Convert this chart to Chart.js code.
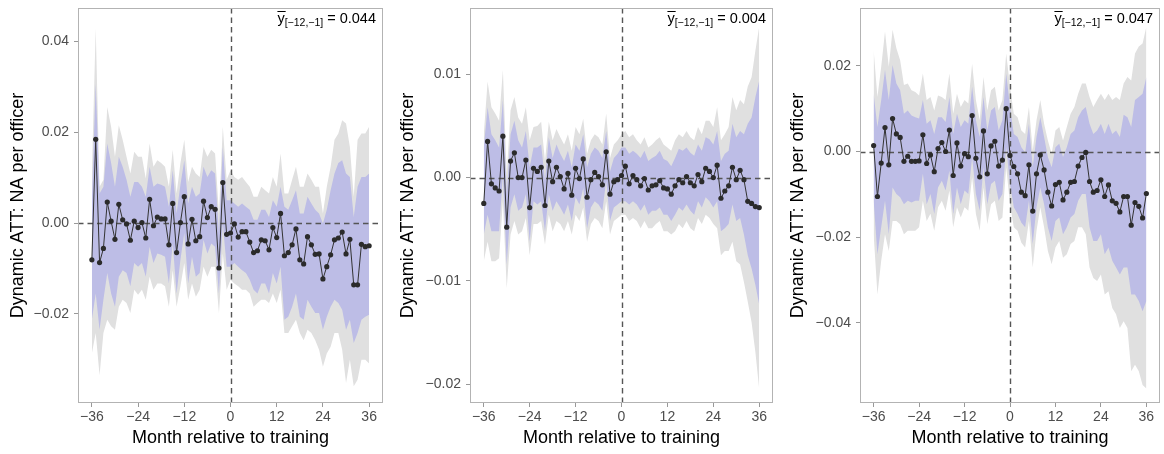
<!DOCTYPE html>
<html>
<head>
<meta charset="utf-8">
<script src="https://cdn.jsdelivr.net/npm/chart.js@4.4.1/dist/chart.umd.min.js"></script>
<style>
  body { margin: 0; background: #fff; }
  .panel { position: absolute; top: 0; height: 454px; }
</style>
</head>
<body>
<div class="panel" style="left:0;width:390px"><canvas id="c1" width="390" height="454"></canvas></div>
<div class="panel" style="left:390px;width:390px"><canvas id="c2" width="390" height="454"></canvas></div>
<div class="panel" style="left:780px;width:384px"><canvas id="c3" width="384" height="454"></canvas></div>
<script>
// months relative to training (x categories)
const months = Array.from({length: 73}, (_, i) => i - 36);
const xTicks = [-36, -24, -12, 0, 12, 24, 36];

// pre-period mean labels
const ybarLabels = ['0.044', '0.004', '0.047'];

// ---- panel 1 ----
const yTicks1 = [-0.02, 0, 0.02, 0.04];
const est1 = [
  -0.0081, 0.0184, -0.0087, -0.0056, 0.0046, 0.0004, -0.0036, 0.0041, 0.0007, -0.0002, -0.0038, 0.0004,
  -0.0010, 0.0001, -0.0033, 0.0052, -0.0006, 0.0013, 0.0009, 0.0009, -0.0048, 0.0043, -0.0065, 0.0001,
  0.0058, -0.0046, 0.0008, -0.0039, -0.0030, 0.0048, 0.0012, 0.0036, 0.0030, -0.0099, 0.0089, -0.0025,
  -0.0022, -0.0002, -0.0031, -0.0019, -0.0019, -0.0042, -0.0065, -0.0061, -0.0037, -0.0039, -0.0059, -0.0010,
  -0.0032, 0.0021, -0.0072, -0.0065, -0.0048, -0.0013, -0.0081, -0.0090, -0.0030, -0.0048, -0.0069, -0.0068,
  -0.0123, -0.0096, -0.0070, -0.0037, -0.0033, -0.0020, -0.0068, -0.0036, -0.0136, -0.0136, -0.0047, -0.0052,
  -0.0050
];
const innerHi1 = [
  0.0050, 0.0307, 0.0065, 0.0080, 0.0175, 0.0132, 0.0080, 0.0146, 0.0124, 0.0095, 0.0058, 0.0090,
  0.0090, 0.0080, 0.0058, 0.0124, 0.0080, 0.0087, 0.0084, 0.0080, 0.0036, 0.0116, 0.0021, 0.0084,
  0.0138, 0.0043, 0.0080, 0.0058, 0.0065, 0.0124, 0.0101, 0.0116, 0.0109, -0.0022, 0.0167, 0.0050,
  0.0050, 0.0043, 0.0036, 0.0043, 0.0036, 0.0029, 0.0007, 0.0007, 0.0029, 0.0029, 0.0013, 0.0050,
  0.0036, 0.0080, 0.0036, 0.0029, 0.0050, 0.0072, 0.0021, 0.0021, 0.0058, 0.0043, 0.0029, 0.0021,
  -0.0001, 0.0029, 0.0072, 0.0109, 0.0132, 0.0138, 0.0109, 0.0101, 0.0013, 0.0080, 0.0101, 0.0101,
  0.0109
];
const innerLo1 = [
  -0.0213, -0.0155, -0.0235, -0.0169, -0.0110, -0.0155, -0.0184, -0.0118, -0.0104, -0.0110, -0.0139, -0.0088,
  -0.0096, -0.0088, -0.0118, -0.0052, -0.0088, -0.0067, -0.0070, -0.0074, -0.0133, -0.0045, -0.0155, -0.0081,
  -0.0022, -0.0133, -0.0074, -0.0118, -0.0110, -0.0037, -0.0067, -0.0045, -0.0052, -0.0155, -0.0001, -0.0096,
  -0.0096, -0.0088, -0.0096, -0.0104, -0.0110, -0.0125, -0.0147, -0.0155, -0.0133, -0.0133, -0.0155, -0.0110,
  -0.0133, -0.0096, -0.0213, -0.0206, -0.0184, -0.0155, -0.0206, -0.0213, -0.0169, -0.0184, -0.0198, -0.0198,
  -0.0235, -0.0206, -0.0184, -0.0169, -0.0176, -0.0191, -0.0235, -0.0213, -0.0264, -0.0242, -0.0213, -0.0206,
  -0.0202
];
const outerHi1 = [
  0.0109, 0.0428, 0.0080, 0.0095, 0.0255, 0.0212, 0.0146, 0.0215, 0.0183, 0.0146, 0.0109, 0.0157,
  0.0146, 0.0146, 0.0098, 0.0175, 0.0124, 0.0138, 0.0132, 0.0124, 0.0080, 0.0161, 0.0065, 0.0132,
  0.0183, 0.0090, 0.0124, 0.0109, 0.0101, 0.0167, 0.0146, 0.0161, 0.0153, 0.0021, 0.0212, 0.0095,
  0.0116, 0.0101, 0.0095, 0.0101, 0.0090, 0.0080, 0.0058, 0.0058, 0.0080, 0.0072, 0.0065, 0.0101,
  0.0080, 0.0153, 0.0065, 0.0065, 0.0095, 0.0124, 0.0080, 0.0080, 0.0109, 0.0095, 0.0080, 0.0080,
  0.0021, 0.0080, 0.0124, 0.0183, 0.0197, 0.0226, 0.0219, 0.0167, 0.0058, 0.0183, 0.0197, 0.0197,
  0.0212
];
const outerLo1 = [
  -0.0287, -0.0242, -0.0335, -0.0242, -0.0213, -0.0227, -0.0235, -0.0184, -0.0169, -0.0176, -0.0198, -0.0147,
  -0.0158, -0.0147, -0.0169, -0.0118, -0.0147, -0.0133, -0.0133, -0.0139, -0.0184, -0.0104, -0.0184, -0.0139,
  -0.0088, -0.0169, -0.0133, -0.0162, -0.0147, -0.0096, -0.0118, -0.0096, -0.0096, -0.0198, -0.0067, -0.0147,
  -0.0125, -0.0133, -0.0139, -0.0147, -0.0147, -0.0155, -0.0184, -0.0176, -0.0169, -0.0169, -0.0176, -0.0155,
  -0.0176, -0.0147, -0.0242, -0.0242, -0.0227, -0.0213, -0.0242, -0.0258, -0.0235, -0.0242, -0.0258, -0.0279,
  -0.0316, -0.0287, -0.0272, -0.0242, -0.0242, -0.0279, -0.0352, -0.0301, -0.0359, -0.0345, -0.0301, -0.0301,
  -0.0309
];

// ---- panel 2 ----
const yTicks2 = [-0.02, -0.01, 0, 0.01];
const est2 = [
  -0.0025, 0.0035, -0.0006, -0.0010, -0.0013, 0.0040, -0.0048, 0.0016, 0.0024, 0.0000, 0.0000, 0.0017,
  -0.0029, 0.0009, 0.0006, 0.0010, -0.0027, 0.0016, -0.0004, 0.0010, 0.0001, -0.0011, 0.0004, -0.0017,
  0.0009, -0.0001, 0.0018, -0.0019, -0.0002, 0.0005, 0.0001, -0.0007, 0.0025, -0.0016, -0.0004, -0.0002,
  0.0002, 0.0011, -0.0006, 0.0002, -0.0002, -0.0008, -0.0001, -0.0012, -0.0008, -0.0007, -0.0003, -0.0010,
  -0.0011, -0.0016, -0.0008, -0.0002, -0.0005, 0.0001, -0.0005, -0.0008, 0.0003, -0.0004, 0.0009, 0.0006,
  0.0000, 0.0012, -0.0020, -0.0013, -0.0008, 0.0010, -0.0002, 0.0007, -0.0002, -0.0023, -0.0025, -0.0028,
  -0.0029
];
const innerHi2 = [
  0.0029, 0.0068, 0.0042, 0.0036, 0.0029, 0.0075, -0.0016, 0.0042, 0.0055, 0.0036, 0.0029, 0.0045,
  0.0010, 0.0029, 0.0029, 0.0032, -0.0003, 0.0039, 0.0019, 0.0032, 0.0023, 0.0016, 0.0026, 0.0010,
  0.0032, 0.0026, 0.0042, 0.0010, 0.0023, 0.0029, 0.0026, 0.0019, 0.0045, 0.0006, 0.0019, 0.0023,
  0.0029, 0.0029, 0.0023, 0.0026, 0.0023, 0.0019, 0.0026, 0.0016, 0.0019, 0.0021, 0.0026, 0.0018,
  0.0016, 0.0011, 0.0019, 0.0028, 0.0026, 0.0029, 0.0024, 0.0021, 0.0032, 0.0026, 0.0039, 0.0037,
  0.0032, 0.0045, 0.0016, 0.0023, 0.0026, 0.0052, 0.0039, 0.0045, 0.0042, 0.0052, 0.0058, 0.0078,
  0.0094
];
const innerLo2 = [
  -0.0055, -0.0036, -0.0052, -0.0052, -0.0052, 0.0003, -0.0084, -0.0029, -0.0016, -0.0032, -0.0029, -0.0016,
  -0.0062, -0.0023, -0.0026, -0.0023, -0.0052, -0.0016, -0.0032, -0.0023, -0.0029, -0.0036, -0.0026, -0.0042,
  -0.0019, -0.0026, -0.0010, -0.0049, -0.0029, -0.0023, -0.0026, -0.0032, -0.0003, -0.0042, -0.0029, -0.0026,
  -0.0023, -0.0023, -0.0026, -0.0023, -0.0026, -0.0032, -0.0026, -0.0036, -0.0032, -0.0032, -0.0029, -0.0036,
  -0.0036, -0.0042, -0.0036, -0.0029, -0.0032, -0.0026, -0.0032, -0.0036, -0.0023, -0.0029, -0.0019, -0.0023,
  -0.0029, -0.0023, -0.0052, -0.0049, -0.0045, -0.0026, -0.0042, -0.0039, -0.0055, -0.0075, -0.0088, -0.0104,
  -0.0123
];
const outerHi2 = [
  0.0042, 0.0093, 0.0068, 0.0062, 0.0055, 0.0104, 0.0003, 0.0065, 0.0078, 0.0058, 0.0052, 0.0068,
  0.0036, 0.0049, 0.0050, 0.0054, 0.0016, 0.0054, 0.0036, 0.0047, 0.0039, 0.0032, 0.0042, 0.0026,
  0.0049, 0.0042, 0.0057, 0.0023, 0.0036, 0.0042, 0.0039, 0.0032, 0.0062, 0.0019, 0.0032, 0.0036,
  0.0042, 0.0045, 0.0039, 0.0042, 0.0036, 0.0032, 0.0039, 0.0029, 0.0032, 0.0036, 0.0039, 0.0032,
  0.0029, 0.0026, 0.0036, 0.0042, 0.0039, 0.0045, 0.0039, 0.0036, 0.0049, 0.0042, 0.0055, 0.0055,
  0.0049, 0.0068, 0.0036, 0.0042, 0.0049, 0.0078, 0.0065, 0.0075, 0.0071, 0.0088, 0.0097, 0.0123,
  0.0146
];
const outerLo2 = [
  -0.0081, -0.0062, -0.0081, -0.0081, -0.0078, -0.0023, -0.0107, -0.0055, -0.0042, -0.0055, -0.0052, -0.0039,
  -0.0075, -0.0045, -0.0045, -0.0042, -0.0065, -0.0036, -0.0052, -0.0042, -0.0045, -0.0052, -0.0042, -0.0055,
  -0.0036, -0.0042, -0.0029, -0.0062, -0.0045, -0.0039, -0.0042, -0.0049, -0.0023, -0.0055, -0.0042, -0.0039,
  -0.0036, -0.0036, -0.0042, -0.0039, -0.0042, -0.0049, -0.0042, -0.0049, -0.0049, -0.0045, -0.0042, -0.0052,
  -0.0052, -0.0055, -0.0052, -0.0045, -0.0049, -0.0042, -0.0049, -0.0052, -0.0039, -0.0045, -0.0036, -0.0039,
  -0.0045, -0.0049, -0.0075, -0.0071, -0.0071, -0.0062, -0.0081, -0.0084, -0.0101, -0.0120, -0.0140, -0.0169,
  -0.0205
];

// ---- panel 3 ----
const yTicks3 = [-0.04, -0.02, 0, 0.02];
const est3 = [
  0.0014, -0.0105, -0.0027, 0.0056, -0.0031, 0.0077, 0.0041, 0.0033, -0.0023, -0.0011, -0.0023, -0.0023,
  -0.0022, 0.0039, -0.0028, -0.0008, -0.0047, 0.0007, 0.0021, 0.0000, 0.0050, -0.0056, 0.0020, -0.0034,
  -0.0005, -0.0012, 0.0084, -0.0016, -0.0059, 0.0048, -0.0052, 0.0013, 0.0024, -0.0034, -0.0020, 0.0100,
  -0.0009, -0.0035, -0.0052, -0.0095, -0.0103, -0.0031, -0.0139, -0.0052, -0.0008, -0.0043, -0.0095, -0.0127,
  -0.0077, -0.0072, -0.0113, -0.0095, -0.0072, -0.0070, -0.0034, -0.0014, -0.0002, -0.0070, -0.0095, -0.0091,
  -0.0066, -0.0105, -0.0078, -0.0115, -0.0121, -0.0141, -0.0105, -0.0105, -0.0172, -0.0119, -0.0128, -0.0155,
  -0.0098
];
const innerHi3 = [
  0.0135, 0.0057, 0.0120, 0.0190, 0.0120, 0.0202, 0.0159, 0.0143, 0.0088, 0.0096, 0.0084, 0.0080,
  0.0077, 0.0120, 0.0065, 0.0073, 0.0041, 0.0080, 0.0080, 0.0069, 0.0127, 0.0041, 0.0088, 0.0057,
  0.0073, 0.0065, 0.0151, 0.0073, 0.0034, 0.0127, 0.0049, 0.0096, 0.0104, 0.0049, 0.0073, 0.0182,
  0.0104, 0.0041, 0.0034, 0.0010, -0.0002, 0.0065, -0.0037, 0.0034, 0.0080, 0.0034, -0.0013, -0.0037,
  0.0010, 0.0018, -0.0013, 0.0010, 0.0041, 0.0049, 0.0080, 0.0096, 0.0104, 0.0065, 0.0041, 0.0049,
  0.0065, 0.0041, 0.0065, 0.0041, 0.0049, 0.0034, 0.0086, 0.0080, 0.0057, 0.0120, 0.0127, 0.0135,
  0.0174
];
const innerLo3 = [
  -0.0115, -0.0240, -0.0177, -0.0115, -0.0193, -0.0084, -0.0099, -0.0107, -0.0123, -0.0115, -0.0119, -0.0115,
  -0.0115, -0.0052, -0.0123, -0.0099, -0.0146, -0.0084, -0.0068, -0.0091, -0.0045, -0.0146, -0.0084, -0.0123,
  -0.0091, -0.0099, -0.0013, -0.0099, -0.0138, -0.0037, -0.0123, -0.0076, -0.0068, -0.0115, -0.0099, 0.0010,
  -0.0076, -0.0130, -0.0146, -0.0166, -0.0177, -0.0115, -0.0216, -0.0130, -0.0084, -0.0123, -0.0177, -0.0209,
  -0.0162, -0.0154, -0.0193, -0.0177, -0.0154, -0.0146, -0.0115, -0.0099, -0.0099, -0.0177, -0.0209, -0.0209,
  -0.0193, -0.0240, -0.0224, -0.0255, -0.0271, -0.0287, -0.0271, -0.0271, -0.0334, -0.0334, -0.0349, -0.0373,
  -0.0349
];
const outerHi3 = [
  0.0237, 0.0127, 0.0198, 0.0280, 0.0198, 0.0284, 0.0241, 0.0213, 0.0155, 0.0159, 0.0143, 0.0139,
  0.0131, 0.0182, 0.0120, 0.0127, 0.0096, 0.0131, 0.0127, 0.0120, 0.0182, 0.0088, 0.0135, 0.0104,
  0.0120, 0.0112, 0.0205, 0.0120, 0.0073, 0.0174, 0.0096, 0.0143, 0.0151, 0.0096, 0.0120, 0.0229,
  0.0151, 0.0088, 0.0080, 0.0049, 0.0041, 0.0104, 0.0002, 0.0073, 0.0120, 0.0065, 0.0026, -0.0005,
  0.0049, 0.0057, 0.0026, 0.0057, 0.0088, 0.0104, 0.0135, 0.0159, 0.0159, 0.0127, 0.0104, 0.0120,
  0.0135, 0.0120, 0.0135, 0.0120, 0.0127, 0.0120, 0.0159, 0.0174, 0.0166, 0.0229, 0.0245, 0.0252,
  0.0291
];
const outerLo3 = [
  -0.0193, -0.0334, -0.0255, -0.0193, -0.0232, -0.0162, -0.0162, -0.0170, -0.0193, -0.0185, -0.0185, -0.0185,
  -0.0177, -0.0115, -0.0162, -0.0145, -0.0185, -0.0130, -0.0115, -0.0138, -0.0091, -0.0177, -0.0130, -0.0154,
  -0.0130, -0.0138, -0.0060, -0.0146, -0.0185, -0.0084, -0.0170, -0.0123, -0.0115, -0.0162, -0.0154, -0.0037,
  -0.0123, -0.0177, -0.0185, -0.0213, -0.0224, -0.0162, -0.0271, -0.0185, -0.0130, -0.0177, -0.0232, -0.0263,
  -0.0224, -0.0209, -0.0248, -0.0240, -0.0216, -0.0209, -0.0177, -0.0177, -0.0193, -0.0271, -0.0295, -0.0302,
  -0.0287, -0.0334, -0.0326, -0.0365, -0.0380, -0.0412, -0.0396, -0.0412, -0.0513, -0.0498, -0.0513, -0.0545,
  -0.0553
];

Chart.defaults.font.family = '"Liberation Sans", Arial, Helvetica, sans-serif';

const MINUS = '\u2212';
const fmtY = v => (v < 0 ? MINUS : '') + Math.abs(v).toFixed(2);
const fmtX = v => (v < 0 ? MINUS : '') + Math.abs(v);
const pts = arr => arr.map((v, i) => ({x: months[i], y: v}));

// dashed reference lines, plot frame and the y-bar note
const decor = {
  id: 'decor',
  afterDatasetDraw(chart, args) {
    if (args.index !== 1) return;
    const {ctx, chartArea: a, scales: {x, y}} = chart;
    const y0 = Math.round(y.getPixelForValue(0)) + 0.5;
    const x0 = Math.round(x.getPixelForValue(0)) + 0.5;
    ctx.save();
    ctx.beginPath();
    ctx.rect(a.left, a.top, a.width, a.height);
    ctx.clip();
    ctx.strokeStyle = '#555555';
    ctx.lineWidth = 1.4;
    ctx.setLineDash([5.5, 4]);
    ctx.beginPath();
    ctx.moveTo(a.left, y0); ctx.lineTo(a.right, y0);
    ctx.moveTo(x0, a.top); ctx.lineTo(x0, a.bottom);
    ctx.stroke();
    ctx.restore();
  },
  afterDraw(chart, args, opts) {
    const {ctx, chartArea: a} = chart;
    ctx.save();
    ctx.strokeStyle = '#b3b3b3';
    ctx.lineWidth = 1;
    ctx.strokeRect(Math.round(a.left) + 0.5, Math.round(a.top) + 0.5,
                   Math.round(a.width) - 1, Math.round(a.height) - 1);

    const fam = Chart.defaults.font.family;
    const main = '14.5px ' + fam, sub = '10.5px ' + fam;
    const rest = ' = ' + opts.label;
    const subTxt = '[' + MINUS + '12,' + MINUS + '1]';
    ctx.font = main;
    const wy = ctx.measureText('y').width, wr = ctx.measureText(rest).width;
    ctx.font = sub;
    const ws = ctx.measureText(subTxt).width;
    const base = a.top + 15;
    let xp = a.right - 7 - (wy + ws + wr);
    ctx.fillStyle = '#000';
    ctx.textBaseline = 'alphabetic';
    ctx.textAlign = 'left';
    ctx.font = main;
    ctx.fillText('y', xp, base);
    ctx.fillRect(xp, base - 12, wy + 1, 1);
    xp += wy;
    ctx.font = sub;
    ctx.fillText(subTxt, xp, base + 3);
    xp += ws;
    ctx.font = main;
    ctx.fillText(rest, xp, base);
    ctx.restore();
  }
};

const panels = [
  {id: 'c1', est: est1, iHi: innerHi1, iLo: innerLo1, oHi: outerHi1, oLo: outerLo1,
   yMin: -0.0396, yMax: 0.0473, yTicks: yTicks1, label: ybarLabels[0], axisW: 78, padR: 7},
  {id: 'c2', est: est2, iHi: innerHi2, iLo: innerLo2, oHi: outerHi2, oLo: outerLo2,
   yMin: -0.0218, yMax: 0.0164, yTicks: yTicks2, label: ybarLabels[1], axisW: 80, padR: 7},
  {id: 'c3', est: est3, iHi: innerHi3, iLo: innerLo3, oHi: outerHi3, oLo: outerLo3,
   yMin: -0.0587, yMax: 0.0335, yTicks: yTicks3, label: ybarLabels[2], axisW: 80, padR: 1}
];

const tickFont = {size: 14};
const titleFont = {size: 18};

panels.forEach(p => {
  new Chart(document.getElementById(p.id), {
    type: 'line',
    data: {
      datasets: [
        { // point estimates (drawn on top)
          data: pts(p.est),
          borderColor: '#333333',
          borderWidth: 1,
          pointRadius: 2.6,
          pointBackgroundColor: '#2b2b2b',
          pointBorderWidth: 0,
          fill: false
        },
        { data: pts(p.iHi), borderWidth: 0, pointRadius: 0, fill: false },
        { data: pts(p.iLo), borderWidth: 0, pointRadius: 0, fill: '-1', backgroundColor: '#bdbde6' },
        { data: pts(p.oHi), borderWidth: 0, pointRadius: 0, fill: false },
        { data: pts(p.oLo), borderWidth: 0, pointRadius: 0, fill: '-1', backgroundColor: '#e0e0e0' }
      ]
    },
    options: {
      responsive: false,
      animation: false,
      layout: { padding: { top: 8, right: p.padR, left: 0, bottom: 0 } },
      plugins: {
        legend: { display: false },
        tooltip: { enabled: false },
        decor: { label: p.label }
      },
      scales: {
        x: {
          type: 'linear',
          min: -39.6,
          max: 39.6,
          afterBuildTicks: ax => { ax.ticks = xTicks.map(v => ({value: v})); },
          afterFit: ax => { ax.height = 51; ax.paddingLeft = 0; ax.paddingRight = 0; },
          ticks: { callback: v => fmtX(v), color: '#4d4d4d', font: tickFont, padding: 2, maxRotation: 0, autoSkip: false },
          grid: { drawOnChartArea: false, drawTicks: true, tickLength: 4, color: '#999999' },
          border: { display: false },
          title: { display: true, text: 'Month relative to training', color: '#000', font: titleFont, padding: { top: 0, bottom: 5 } }
        },
        y: {
          min: p.yMin,
          max: p.yMax,
          afterBuildTicks: ax => { ax.ticks = p.yTicks.map(v => ({value: v})); },
          afterFit: ax => { ax.width = p.axisW; ax.paddingTop = 0; ax.paddingBottom = 0; },
          ticks: { callback: v => fmtY(v), color: '#4d4d4d', font: tickFont, padding: 5 },
          grid: { drawOnChartArea: false, drawTicks: true, tickLength: 4, color: '#999999' },
          border: { display: false },
          title: { display: true, text: 'Dynamic ATT: NA per officer', color: '#000', font: titleFont, padding: { top: 7, bottom: 0 } }
        }
      }
    },
    plugins: [decor]
  });
});
</script>
</body>
</html>
